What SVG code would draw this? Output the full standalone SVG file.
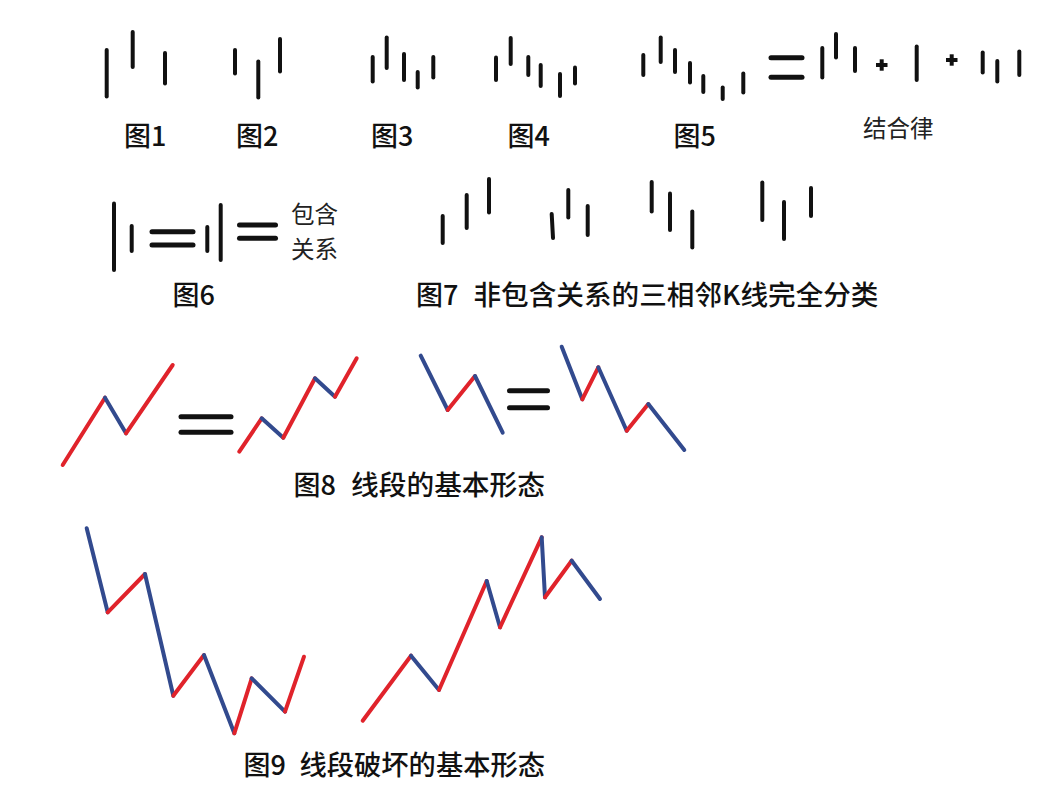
<svg xmlns="http://www.w3.org/2000/svg" width="1050" height="795" viewBox="0 0 1050 795">
<style>
.bar{stroke:#111;stroke-width:4;stroke-linecap:round;fill:none}
.eq{stroke:#111;stroke-width:5;stroke-linecap:round;fill:none}
.pl{stroke:#111;stroke-width:4;stroke-linecap:butt;fill:none}
.r{stroke:#e0232b;stroke-width:4;stroke-linecap:round;fill:none}
.b{stroke:#324a8e;stroke-width:4;stroke-linecap:round;fill:none}
.lbl{font-family:"Noto Sans CJK SC","Noto Sans",sans-serif;font-size:27px;font-weight:500;fill:#111}
.sm{font-family:"Noto Sans CJK SC","Noto Sans",sans-serif;font-size:23.5px;font-weight:400;fill:#222}
</style>
<rect width="1050" height="795" fill="#fff"/>

<g id="fig1">
<line class="bar" x1="106.7" y1="50" x2="106.7" y2="96.5"/>
<line class="bar" x1="132.7" y1="32" x2="132.7" y2="67"/>
<line class="bar" x1="165" y1="53" x2="165" y2="83.5"/>
<text class="lbl" x="124" y="146">图1</text>
</g>

<g id="fig2">
<line class="bar" x1="235" y1="50" x2="235" y2="73.5"/>
<line class="bar" x1="258.3" y1="61.5" x2="258.3" y2="97.5"/>
<line class="bar" x1="280" y1="39" x2="280" y2="71.5"/>
<text class="lbl" x="236" y="146">图2</text>
</g>

<g id="fig3">
<line class="bar" x1="372.7" y1="57" x2="372.7" y2="81.5"/>
<line class="bar" x1="386.7" y1="37.5" x2="386.7" y2="68"/>
<line class="bar" x1="404" y1="54" x2="404" y2="80"/>
<line class="bar" x1="417.7" y1="72" x2="417.7" y2="87.5"/>
<line class="bar" x1="433.3" y1="57" x2="433.3" y2="77.5"/>
<text class="lbl" x="371" y="146">图3</text>
</g>

<g id="fig4">
<line class="bar" x1="496" y1="57.5" x2="496" y2="80"/>
<line class="bar" x1="510.7" y1="38" x2="510.7" y2="64"/>
<line class="bar" x1="528.3" y1="57" x2="528.3" y2="75"/>
<line class="bar" x1="540.7" y1="65" x2="540.7" y2="86"/>
<line class="bar" x1="560" y1="74" x2="560" y2="96"/>
<line class="bar" x1="575" y1="67.5" x2="575" y2="83.5"/>
<text class="lbl" x="507.5" y="146">图4</text>
</g>

<g id="fig5">
<line class="bar" x1="643.3" y1="55" x2="643.3" y2="75"/>
<line class="bar" x1="660.7" y1="37.5" x2="660.7" y2="62"/>
<line class="bar" x1="675" y1="50" x2="675" y2="72"/>
<line class="bar" x1="690" y1="63" x2="690" y2="82.5"/>
<line class="bar" x1="703.3" y1="76" x2="703.3" y2="92"/>
<line class="bar" x1="722.7" y1="87.5" x2="722.7" y2="99"/>
<line class="bar" x1="743.3" y1="73.5" x2="743.3" y2="92.5"/>
<text class="lbl" x="673.5" y="146">图5</text>
</g>

<g id="assoc">
<line class="eq" x1="771" y1="57.7" x2="802" y2="57.7"/>
<line class="eq" x1="771" y1="77.3" x2="802" y2="77.3"/>
<line class="bar" x1="822.3" y1="48" x2="822.3" y2="77.5"/>
<line class="bar" x1="836" y1="34" x2="836" y2="57.5"/>
<line class="bar" x1="855" y1="48" x2="855" y2="71"/>
<line class="pl" x1="876" y1="65" x2="887.5" y2="65"/>
<line class="pl" x1="881.7" y1="59.3" x2="881.7" y2="70.7"/>
<line class="bar" x1="916.7" y1="46.5" x2="916.7" y2="80"/>
<line class="pl" x1="946" y1="60" x2="957.5" y2="60"/>
<line class="pl" x1="951.7" y1="54.3" x2="951.7" y2="65.7"/>
<line class="bar" x1="982.7" y1="52.5" x2="982.7" y2="72.5"/>
<line class="bar" x1="997.3" y1="61" x2="997.3" y2="81.5"/>
<line class="bar" x1="1019.3" y1="51.5" x2="1019.3" y2="75"/>
<text class="sm" x="863" y="137">结合律</text>
</g>

<g id="fig6">
<line class="bar" x1="114" y1="203.5" x2="114" y2="270"/>
<line class="bar" x1="131.7" y1="226" x2="131.7" y2="251"/>
<line class="eq" x1="152" y1="231.7" x2="193" y2="231.7"/>
<line class="eq" x1="152" y1="245" x2="193" y2="245"/>
<line class="bar" x1="207.3" y1="227" x2="207.3" y2="251"/>
<line class="bar" x1="220.7" y1="205" x2="220.7" y2="260"/>
<line class="eq" x1="239.5" y1="225" x2="275.5" y2="225"/>
<line class="eq" x1="239.5" y1="238.3" x2="275.5" y2="238.3"/>
<text class="sm" x="291" y="223">包含</text>
<text class="sm" x="291" y="258">关系</text>
<text class="lbl" x="172.5" y="304.5">图6</text>
</g>

<g id="fig7">
<line class="bar" x1="442.7" y1="216" x2="442.7" y2="243"/>
<line class="bar" x1="466.7" y1="195" x2="466.7" y2="228"/>
<line class="bar" x1="489" y1="179" x2="489" y2="212.5"/>
<line class="bar" x1="551.7" y1="214" x2="553" y2="238"/>
<line class="bar" x1="568.3" y1="190" x2="568.3" y2="217.5"/>
<line class="bar" x1="587.7" y1="206" x2="587.7" y2="235"/>
<line class="bar" x1="651.7" y1="182" x2="651.7" y2="211.5"/>
<line class="bar" x1="670" y1="193.5" x2="670" y2="230"/>
<line class="bar" x1="692.3" y1="211.5" x2="692.3" y2="247.5"/>
<line class="bar" x1="762.3" y1="182.5" x2="762.3" y2="220"/>
<line class="bar" x1="784" y1="202" x2="784" y2="239"/>
<line class="bar" x1="811" y1="188" x2="811" y2="216"/>
<text class="lbl" x="416" y="304.5">图7</text>
<text class="lbl" x="473.5" y="304.5" textLength="405" lengthAdjust="spacingAndGlyphs">非包含关系的三相邻K线完全分类</text>
</g>

<g id="fig8">
<line class="r" x1="62.7" y1="465" x2="105" y2="397.7"/>
<line class="b" x1="105" y1="397.7" x2="126" y2="433.3"/>
<line class="r" x1="126" y1="433.3" x2="172.7" y2="365"/>
<line class="eq" x1="181" y1="416.7" x2="231" y2="416.7"/>
<line class="eq" x1="181" y1="432.3" x2="231" y2="432.3"/>
<line class="r" x1="239.3" y1="451.7" x2="261.7" y2="418.3"/>
<line class="b" x1="261.7" y1="418.3" x2="283.3" y2="437.7"/>
<line class="r" x1="283.3" y1="437.7" x2="315" y2="378.3"/>
<line class="b" x1="315" y1="378.3" x2="335" y2="396.7"/>
<line class="r" x1="335" y1="396.7" x2="356.7" y2="358.3"/>
<line class="b" x1="420.7" y1="355.7" x2="447.7" y2="410"/>
<line class="r" x1="447.7" y1="410" x2="475" y2="376"/>
<line class="b" x1="475" y1="376" x2="502.7" y2="432.7"/>
<line class="eq" x1="509.5" y1="390.7" x2="547.5" y2="390.7"/>
<line class="eq" x1="509.5" y1="407.7" x2="547.5" y2="407.7"/>
<line class="b" x1="561.7" y1="346.7" x2="582.3" y2="399.3"/>
<line class="r" x1="582.3" y1="399.3" x2="598.3" y2="367.3"/>
<line class="b" x1="598.3" y1="367.3" x2="626.7" y2="430.7"/>
<line class="r" x1="626.7" y1="430.7" x2="648.3" y2="404"/>
<line class="b" x1="648.3" y1="404" x2="684.3" y2="450"/>
<text class="lbl" x="293.5" y="494.5">图8</text>
<text class="lbl" x="351" y="494.5" textLength="194" lengthAdjust="spacingAndGlyphs">线段的基本形态</text>
</g>

<g id="fig9">
<line class="b" x1="86.7" y1="528.3" x2="107.7" y2="612.3"/>
<line class="r" x1="107.7" y1="612.3" x2="145" y2="574"/>
<line class="b" x1="145" y1="574" x2="173.3" y2="695.7"/>
<line class="r" x1="173.3" y1="695.7" x2="204" y2="655"/>
<line class="b" x1="204" y1="655" x2="234.3" y2="733.3"/>
<line class="r" x1="234.3" y1="733.3" x2="251.7" y2="678.3"/>
<line class="b" x1="251.7" y1="678.3" x2="285" y2="711.7"/>
<line class="r" x1="285" y1="711.7" x2="304" y2="656.7"/>
<line class="r" x1="362.7" y1="720.7" x2="411" y2="655.7"/>
<line class="b" x1="411" y1="655.7" x2="439" y2="690"/>
<line class="r" x1="439" y1="690" x2="486.7" y2="581"/>
<line class="b" x1="486.7" y1="581" x2="500" y2="627.3"/>
<line class="r" x1="500" y1="627.3" x2="541.7" y2="537.3"/>
<line class="b" x1="541.7" y1="537.3" x2="545" y2="597.3"/>
<line class="r" x1="545" y1="597.3" x2="571.7" y2="560.7"/>
<line class="b" x1="571.7" y1="560.7" x2="600" y2="599"/>
<text class="lbl" x="243.5" y="775">图9</text>
<text class="lbl" x="299.5" y="775" textLength="245.5" lengthAdjust="spacingAndGlyphs">线段破坏的基本形态</text>
</g>
</svg>
